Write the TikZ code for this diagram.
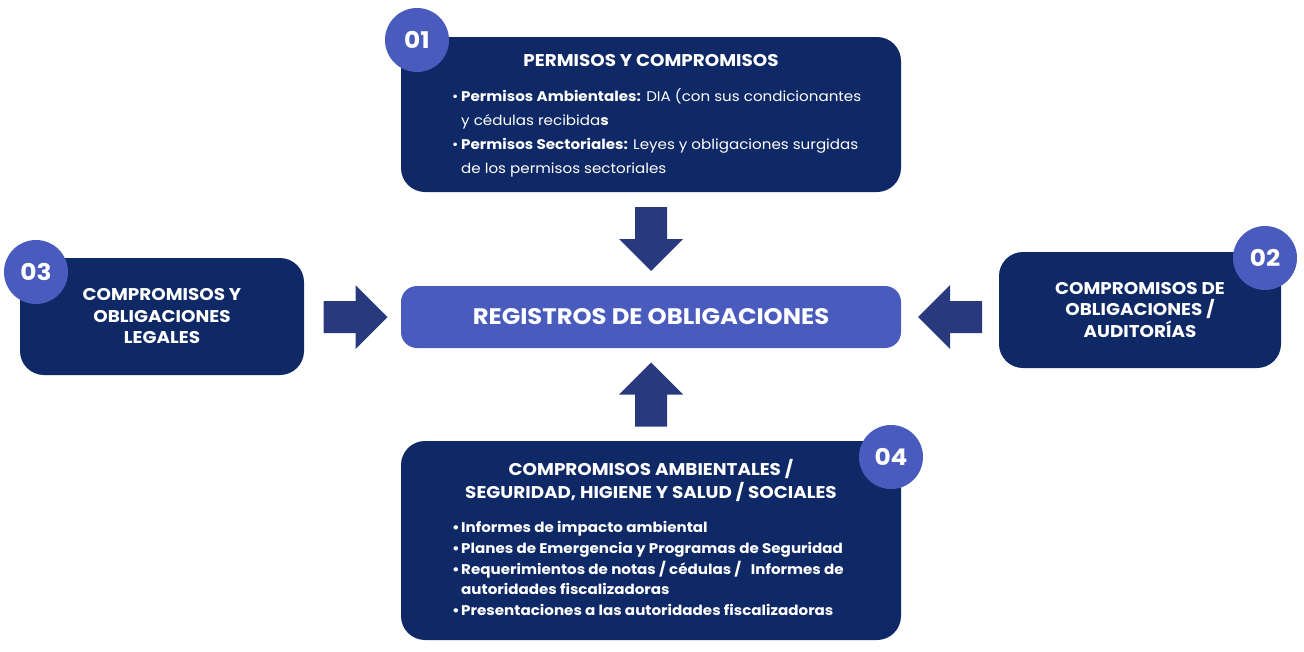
\documentclass[tikz,border=0pt]{standalone}
\usepackage{fontspec}
\setmainfont{Poppins}[FakeStretch=1.08]
\usepackage{xcolor}
\usetikzlibrary{calc,positioning}

\definecolor{navy}{HTML}{0F2866}
\definecolor{accent}{HTML}{4A5BBE}
\definecolor{arrowblue}{HTML}{29397D}

\begin{document}
\begin{tikzpicture}[x=1pt,y=-1pt,
  box/.style={fill=navy, rounded corners=24pt, inner sep=0pt, text=white,
    align=center, font=\fontsize{17}{21.5}\selectfont\bfseries},
  hub/.style={fill=accent, rounded corners=16pt, inner sep=0pt, text=white,
    font=\fontsize{22.5}{22.5}\selectfont\bfseries},
  num/.style={circle, fill=accent, minimum size=64pt, inner sep=0pt,
    text=white, font=\fontsize{23}{23}\selectfont\bfseries},
  head/.style={text=white, align=center, inner sep=0pt,
    font=\fontsize{17}{23}\selectfont\bfseries},
  items/.style={text=white, align=left, anchor=north west, inner sep=0pt},
  blockarrow/.style={fill=arrowblue}]

  \useasboundingbox (0,0) rectangle (1304,651);

  % boxes
  \node[box, minimum width=500pt, minimum height=155pt] (perm) at (651,114.5) {};
  \node[hub, minimum width=500pt, minimum height=62pt] (reg) at (651,317)
    {REGISTROS DE OBLIGACIONES};
  \node[box, minimum width=284pt, minimum height=117pt] (legal) at (162,316.5)
    {COMPROMISOS Y\\OBLIGACIONES\\LEGALES};
  \node[box, minimum width=282pt, minimum height=116pt] (audit) at (1140,310)
    {COMPROMISOS DE\\OBLIGACIONES /\\AUDITORÍAS};
  \node[box, minimum width=500pt, minimum height=199pt] (amb) at (651,540.5) {};

  % texts of the large boxes
  \node[head] (permtitle) at (651,61) {PERMISOS Y COMPROMISOS};
  \node[items, font=\fontsize{14}{24}\selectfont] (permlist) at (452,88)
    {\makebox[9pt][l]{\textbullet}\textbf{Permisos Ambientales:} DIA (con sus condicionantes\\
     \hspace*{9pt}y cédulas recibida\textbf{s}\\
     \makebox[9pt][l]{\textbullet}\textbf{Permisos Sectoriales:} Leyes y obligaciones surgidas\\
     \hspace*{9pt}de los permisos sectoriales};

  \node[head] (ambtitle) at (651,480.5)
    {COMPROMISOS AMBIENTALES /\\SEGURIDAD, HIGIENE Y SALUD / SOCIALES};
  \node[items, font=\fontsize{14}{20.8}\selectfont\bfseries] (amblist) at (452,521)
    {\makebox[9pt][l]{\textbullet}Informes de impacto ambiental\\
     \makebox[9pt][l]{\textbullet}Planes de Emergencia y Programas de Seguridad\\
     \makebox[9pt][l]{\textbullet}Requerimientos de notas / cédulas / \ \ Informes de\\
     \hspace*{9pt}autoridades fiscalizadoras\\
     \makebox[9pt][l]{\textbullet}Presentaciones a las autoridades fiscalizadoras};

  % numbers
  \node[num] (n1) at (417,40) {01};
  \node[num] (n2) at (1265,258) {02};
  \node[num] (n3) at (36,272) {03};
  \node[num] (n4) at (891,457) {04};

  % block arrows
  \fill[blockarrow] let \p1 = ($(perm.south)!.5!(reg.north)$) in
    (\x1-16pt,\y1+32pt) -- (\x1+16pt,\y1+32pt) -- (\x1+16pt,\y1) -- (\x1+32pt,\y1)
    -- (\x1,\y1-32pt) -- (\x1-32pt,\y1) -- (\x1-16pt,\y1) -- cycle;
  \fill[blockarrow] let \p1 = ($(amb.north)!.5!(reg.south)$) in
    (\x1-16pt,\y1-32pt) -- (\x1+16pt,\y1-32pt) -- (\x1+16pt,\y1) -- (\x1+32pt,\y1)
    -- (\x1,\y1+32pt) -- (\x1-32pt,\y1) -- (\x1-16pt,\y1) -- cycle;
  \fill[blockarrow] let \p1 = ($(legal.east)!.5!(reg.west)+(3,0)$), \p2 = (reg.west) in
    (\x1-32pt,\y2+16pt) -- (\x1-32pt,\y2-16pt) -- (\x1,\y2-16pt) -- (\x1,\y2-32pt)
    -- (\x1+32pt,\y2) -- (\x1,\y2+32pt) -- (\x1,\y2+16pt) -- cycle;
  \fill[blockarrow] let \p1 = ($(audit.west)!.5!(reg.east)$), \p2 = (reg.east) in
    (\x1+32pt,\y2+16pt) -- (\x1+32pt,\y2-16pt) -- (\x1,\y2-16pt) -- (\x1,\y2-32pt)
    -- (\x1-32pt,\y2) -- (\x1,\y2+32pt) -- (\x1,\y2+16pt) -- cycle;
\end{tikzpicture}
\end{document}
